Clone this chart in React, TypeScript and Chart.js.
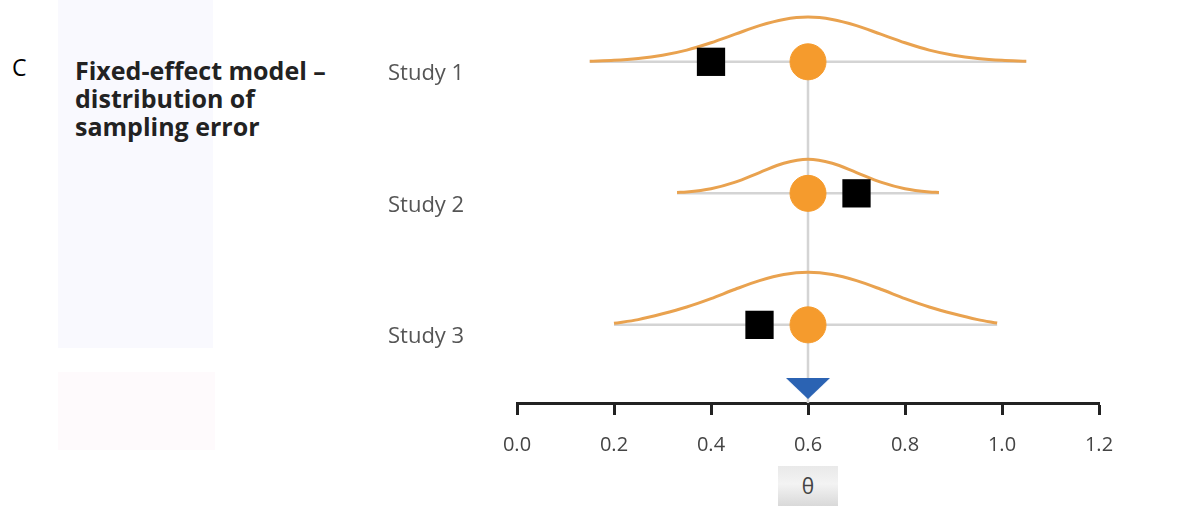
import { useEffect, useRef } from "react";
import { Chart, registerables } from "chart.js";

Chart.register(...registerables);

// ---- data ----
const STUDIES = ["Study 1", "Study 2", "Study 3"];
const STUDY_ROWS = [3, 2, 1];
const TRUE_EFFECT = [0.6, 0.6, 0.6];
const OBSERVED = [0.4, 0.7, 0.5];
const SUMMARY_X = 0.6;
const SUMMARY_ROW = 0.516;
const ROW_LINE_START = [0.15, 0.33, 0.2];
const ROW_LINE_END = [1.05, 0.87, 0.99];
const X_TICKS = [0, 0.2, 0.4, 0.6, 0.8, 1.0, 1.2];

// sampling-error curves (height above the study row)
const CURVE1_X = [0.15, 0.2, 0.25, 0.3, 0.35, 0.4, 0.45, 0.5, 0.55, 0.6, 0.65, 0.7, 0.75, 0.8, 0.85, 0.9, 0.95, 1.0, 1.05];
const CURVE1_H = [0.005, 0.011, 0.025, 0.05, 0.089, 0.145, 0.21, 0.275, 0.322, 0.34, 0.322, 0.275, 0.21, 0.145, 0.089, 0.05, 0.025, 0.011, 0.005];
const CURVE2_X = [0.33, 0.35, 0.4, 0.45, 0.5, 0.55, 0.6, 0.65, 0.7, 0.75, 0.8, 0.85, 0.87];
const CURVE2_H = [0.007, 0.011, 0.035, 0.085, 0.158, 0.229, 0.26, 0.229, 0.158, 0.085, 0.035, 0.011, 0.007];
const CURVE3_X = [0.2, 0.25, 0.3, 0.35, 0.4, 0.45, 0.5, 0.55, 0.6, 0.65, 0.7, 0.75, 0.8, 0.85, 0.9, 0.95, 0.99];
const CURVE3_H = [0.012, 0.04, 0.084, 0.136, 0.2, 0.271, 0.336, 0.383, 0.4, 0.383, 0.336, 0.271, 0.2, 0.136, 0.084, 0.04, 0.014];

const CURVES_X = [CURVE1_X, CURVE2_X, CURVE3_X];
const CURVES_H = [CURVE1_H, CURVE2_H, CURVE3_H];

const Y_MIN = 0.406;
const Y_MAX = 3.47;

const FONT = "'Open Sans', 'Noto Sans', sans-serif";

function makeTriangle(): HTMLCanvasElement {
  const c = document.createElement("canvas");
  c.width = 44;
  c.height = 21;
  const ctx = c.getContext("2d")!;
  ctx.fillStyle = "#2B63B3";
  ctx.beginPath();
  ctx.moveTo(0, 0);
  ctx.lineTo(44, 0);
  ctx.lineTo(22, 21);
  ctx.closePath();
  ctx.fill();
  return c;
}

function noScalePadding(scale: any) {
  scale.paddingTop = 0;
  scale.paddingBottom = 0;
  scale.paddingLeft = 0;
  scale.paddingRight = 0;
}

export default function App() {
  const ref = useRef<HTMLCanvasElement | null>(null);

  useEffect(() => {
    if (!ref.current) return;
    const datasets: any[] = [];

    // study rows (gray)
    STUDY_ROWS.forEach((row, i) => {
      datasets.push({
        type: "scatter",
        data: [
          { x: ROW_LINE_START[i], y: row },
          { x: ROW_LINE_END[i], y: row },
        ],
        showLine: true,
        borderColor: "#D4D4D4",
        borderWidth: 2.5,
        pointRadius: 0,
        order: 5,
      });
    });
    // vertical line at the common true effect
    datasets.push({
      type: "scatter",
      data: [
        { x: TRUE_EFFECT[0], y: STUDY_ROWS[0] },
        { x: TRUE_EFFECT[0], y: Y_MIN },
      ],
      showLine: true,
      borderColor: "#D4D4D4",
      borderWidth: 2.5,
      pointRadius: 0,
      order: 5,
    });
    // curves
    STUDY_ROWS.forEach((row, i) => {
      datasets.push({
        type: "scatter",
        data: CURVES_X[i].map((x, j) => ({ x, y: row + CURVES_H[i][j] })),
        showLine: true,
        cubicInterpolationMode: "monotone",
        borderColor: "#E9A24F",
        borderWidth: 3,
        pointRadius: 0,
        order: 4,
      });
    });
    // true effect circles
    datasets.push({
      type: "scatter",
      data: STUDY_ROWS.map((row, i) => ({ x: TRUE_EFFECT[i], y: row })),
      pointStyle: "circle",
      pointRadius: 18,
      backgroundColor: "#F59B2D",
      borderColor: "#F59B2D",
      borderWidth: 1,
      order: 2,
    });
    // observed squares
    datasets.push({
      type: "scatter",
      data: STUDY_ROWS.map((row, i) => ({ x: OBSERVED[i], y: row })),
      pointStyle: "rect",
      pointRadius: 20,
      backgroundColor: "#000000",
      borderColor: "#000000",
      borderWidth: 0,
      order: 1,
    });
    // summary triangle
    datasets.push({
      type: "scatter",
      data: [{ x: SUMMARY_X, y: SUMMARY_ROW }],
      pointStyle: makeTriangle(),
      pointRadius: 22,
      order: 0,
    });

    const chart = new Chart(ref.current, {
      type: "scatter",
      data: { datasets },
      options: {
        animation: false,
        responsive: false,
        devicePixelRatio: 1,
        events: [],
        layout: { autoPadding: false, padding: { left: 388, right: 99, top: 0, bottom: 0 } },
        plugins: { legend: { display: false }, tooltip: { enabled: false } },
        scales: {
          x: {
            type: "linear",
            min: 0,
            max: 1.2,
            afterBuildTicks: (scale: any) => {
              scale.ticks = X_TICKS.map((v) => ({ value: v }));
            },
            afterFit: (scale: any) => {
              scale.height = 105;
              noScalePadding(scale);
            },
            border: { display: true, color: "#222222", width: 3 },
            grid: {
              display: true,
              drawOnChartArea: false,
              drawTicks: true,
              tickLength: 12,
              tickWidth: 3,
              tickColor: "#222222",
            },
            ticks: {
              color: "#444444",
              font: { family: FONT, size: 20 },
              padding: 18,
              maxRotation: 0,
              callback: (v: any) => Number(v).toFixed(1),
            },
          },
          y: {
            type: "linear",
            min: Y_MIN,
            max: Y_MAX,
            afterBuildTicks: (scale: any) => {
              scale.ticks = STUDY_ROWS.map((v) => ({ value: v }));
            },
            afterFit: (scale: any) => {
              scale.width = 129;
              noScalePadding(scale);
            },
            border: { display: false },
            grid: { display: false },
            ticks: {
              color: "#555555",
              font: { family: FONT, size: 22 },
              padding: 0,
              crossAlign: "far",
              labelOffset: 12,
              callback: (v: any) => {
                const i = STUDY_ROWS.indexOf(Number(v));
                return i >= 0 ? STUDIES[i] : "";
              },
            },
          },
        },
      },
    });
    return () => chart.destroy();
  }, []);

  return (
    <div
      style={{
        position: "fixed",
        left: 0,
        top: 0,
        width: 1198,
        height: 508,
        background: "#ffffff",
        overflow: "hidden",
      }}
    >
      <div style={{ position: "absolute", left: 58, top: 0, width: 155, height: 348, background: "#F9F9FE" }} />
      <div style={{ position: "absolute", left: 58, top: 372, width: 157, height: 78, background: "#FEFAFC" }} />
      <div
        style={{
          position: "absolute",
          left: 12,
          top: 56,
          fontFamily: FONT,
          fontSize: 23,
          lineHeight: 1,
          color: "#000",
        }}
      >
        C
      </div>
      <div
        style={{
          position: "absolute",
          left: 75,
          top: 56,
          fontFamily: FONT,
          fontSize: 25,
          fontWeight: 700,
          lineHeight: "28px",
          color: "#222",
          whiteSpace: "nowrap",
        }}
      >
        Fixed-effect model –<br />
        distribution of<br />
        sampling error
      </div>
      <div
        style={{
          position: "absolute",
          left: 778,
          top: 466,
          width: 60,
          height: 40,
          background: "linear-gradient(to bottom, #e9e9e9, #f3f3f3 45%, #d9d9d9)",
          fontFamily: FONT,
          fontSize: 21,
          color: "#444",
          display: "flex",
          alignItems: "center",
          justifyContent: "center",
        }}
      >
        θ
      </div>
      <canvas
        ref={ref}
        width={1198}
        height={508}
        style={{ position: "absolute", left: 0, top: 0, width: 1198, height: 508 }}
      />
    </div>
  );
}
